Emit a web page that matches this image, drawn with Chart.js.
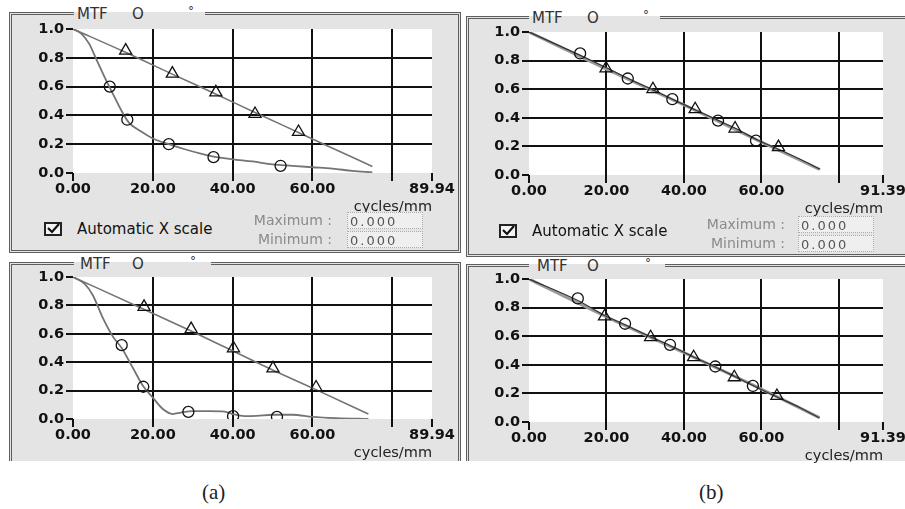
<!DOCTYPE html>
<html>
<head>
<meta charset="utf-8">
<script src="https://cdn.jsdelivr.net/npm/chart.js@4.4.1/dist/chart.umd.min.js"></script>
<style>
  body { margin: 0; width: 905px; height: 509px; background: #fff; position: relative; overflow: hidden; font-family: "DejaVu Sans", sans-serif; }
  .frame { position: absolute; background: #e4e4e4; border: 3px double #5e5e5e; box-sizing: border-box; }
  .ttl { position: absolute; background: linear-gradient(#fff 0, #fff 6px, #e4e4e4 6px); height: 16px; color: #333; font-size: 15px; line-height: 16px; }
  .ttl span { position: absolute; top: 0; }
  canvas { position: absolute; }
  .lbl { position: absolute; white-space: nowrap; }
  .auto { font-size: 15px; color: #111; }
  .mm { font-size: 14px; color: #8a8a8a; text-align: right; width: 100px; }
  .fld { position: absolute; width: 76px; height: 17px; border: 1px dotted #aaa; background: #efefef; font-size: 13px; letter-spacing: 2px; color: #555; line-height: 17px; padding-left: 2px; box-sizing: border-box; }
  .cap { position: absolute; font-family: "Liberation Serif", serif; font-size: 21px; color: #222; }
</style>
</head>
<body>
<div class="frame" style="left:9px;top:12px;width:452px;height:241px"></div>
<div class="frame" style="left:466px;top:16px;width:450px;height:241px"></div>
<div class="frame" style="left:9px;top:262px;width:452px;height:210px;border-bottom:none"></div>
<div class="frame" style="left:466px;top:264px;width:450px;height:208px;border-bottom:none"></div>
<div style="position:absolute;left:0;top:461px;width:905px;height:48px;background:#fff"></div>

<div class="ttl" style="left:74px;top:6px;width:131px"><span style="left:3px">MTF</span><span style="left:58px">O</span><span style="left:114px;font-size:12px;top:-3px">°</span></div>
<div class="ttl" style="left:529px;top:10px;width:131px"><span style="left:3px">MTF</span><span style="left:58px">O</span><span style="left:114px;font-size:12px;top:-3px">°</span></div>
<div class="ttl" style="left:74px;top:256px;width:137px"><span style="left:6px">MTF</span><span style="left:58px">O</span><span style="left:116px;font-size:12px;top:-3px">°</span></div>
<div class="ttl" style="left:529px;top:258px;width:136px"><span style="left:8px">MTF</span><span style="left:58px">O</span><span style="left:116px;font-size:12px;top:-3px">°</span></div>

<canvas id="tl" width="449" height="201" style="left:13px;top:17px"></canvas>
<canvas id="tr" width="444" height="200" style="left:469px;top:20px"></canvas>
<canvas id="bl" width="449" height="199" style="left:13px;top:265px"></canvas>
<canvas id="br" width="444" height="200" style="left:469px;top:267px"></canvas>

<svg style="position:absolute;left:44px;top:222px" width="18" height="14"><rect x="1" y="1" width="16" height="12" fill="#f4f4f4" stroke="#222" stroke-width="2"/><polyline points="4,6 8,10 15,2" fill="none" stroke="#111" stroke-width="2.2"/></svg>
<div class="lbl auto" style="left:77px;top:220px">Automatic X scale</div>
<div class="lbl mm" style="left:232px;top:212px">Maximum :</div>
<div class="lbl mm" style="left:232px;top:231px">Minimum :</div>
<div class="fld" style="left:347px;top:212px">0.000</div>
<div class="fld" style="left:347px;top:231px">0.000</div>

<svg style="position:absolute;left:499px;top:224px" width="18" height="14"><rect x="1" y="1" width="16" height="12" fill="#f4f4f4" stroke="#222" stroke-width="2"/><polyline points="4,6 8,10 15,2" fill="none" stroke="#111" stroke-width="2.2"/></svg>
<div class="lbl auto" style="left:532px;top:222px">Automatic X scale</div>
<div class="lbl mm" style="left:685px;top:216px">Maximum :</div>
<div class="lbl mm" style="left:685px;top:235px">Minimum :</div>
<div class="fld" style="left:798px;top:216px">0.000</div>
<div class="fld" style="left:798px;top:235px">0.000</div>

<div class="cap" style="left:202px;top:480px">(a)</div>
<div class="cap" style="left:699px;top:480px">(b)</div>

<script>
const xTicksA = [0, 20, 40, 60, 80, 89.94];
const xTicksB = [0, 20, 40, 60, 80, 91.39];
const yTicks = [0, 0.2, 0.4, 0.6, 0.8, 1.0];

// (a) top
const tlTriLineX = [0, 13, 25, 36, 46, 57, 66, 75];
const tlTriLineY = [1.0, 0.84, 0.685, 0.545, 0.415, 0.275, 0.16, 0.045];
const tlCirLineX = [0, 2, 4, 6, 8, 10, 12, 14, 17, 20, 24, 28, 32, 36, 40, 45, 50, 55, 60, 65, 70, 75];
const tlCirLineY = [1.0, 0.97, 0.9, 0.78, 0.66, 0.55, 0.44, 0.35, 0.29, 0.24, 0.2, 0.165, 0.135, 0.11, 0.095, 0.08, 0.06, 0.05, 0.04, 0.03, 0.015, 0.005];
const tlTriX = [13.2, 24.9, 35.8, 45.6, 56.5];
const tlTriY = [0.85, 0.69, 0.56, 0.41, 0.285];
const tlCirX = [9.2, 13.6, 24, 35.2, 52];
const tlCirY = [0.6, 0.37, 0.2, 0.11, 0.05];

// (b) top
const trLineX = [0, 13, 20, 26, 32, 37, 43, 49, 53, 59, 64, 70, 75.2];
const trLineY = [1.0, 0.84, 0.75, 0.67, 0.595, 0.53, 0.455, 0.38, 0.33, 0.245, 0.185, 0.11, 0.04];
const trLine2X = [0, 20, 40, 60, 75];
const trLine2Y = [1.0, 0.74, 0.49, 0.23, 0.04];
const trCirX = [13.2, 25.5, 37.0, 48.8, 58.6];
const trCirY = [0.85, 0.675, 0.53, 0.38, 0.24];
const trTriX = [19.9, 32.0, 42.9, 53.2, 64.4];
const trTriY = [0.745, 0.6, 0.46, 0.325, 0.195];

// (a) bottom
const blTriLineX = [0, 18, 30, 40, 50, 61, 74];
const blTriLineY = [1.0, 0.77, 0.615, 0.48, 0.345, 0.205, 0.035];
const blCirLineX = [0, 3, 5, 7.5, 10, 12.2, 15, 17.6, 20, 22.5, 25, 27, 30, 34, 38, 40, 43, 46, 50, 55, 60, 66, 74];
const blCirLineY = [1.0, 0.95, 0.87, 0.71, 0.58, 0.5, 0.36, 0.23, 0.15, 0.07, 0.035, 0.045, 0.055, 0.055, 0.052, 0.035, 0.02, 0.022, 0.03, 0.03, 0.015, 0.006, 0.0];
const blTriX = [17.8, 29.6, 40.2, 50.1, 60.9];
const blTriY = [0.79, 0.633, 0.498, 0.357, 0.222];
const blCirX = [12.2, 17.6, 28.9, 40.1, 51.1];
const blCirY = [0.52, 0.227, 0.05, 0.02, 0.015];

// (b) bottom
const brLineX = [0, 12.6, 19.5, 24.8, 31.4, 36.4, 42.5, 48.1, 53, 57.8, 64, 70, 75];
const brLineY = [1.0, 0.85, 0.745, 0.68, 0.595, 0.535, 0.455, 0.385, 0.32, 0.255, 0.175, 0.1, 0.028];
const brLine2X = [0, 20, 40, 60, 75];
const brLine2Y = [1.0, 0.735, 0.485, 0.23, 0.03];
const brCirX = [12.6, 24.8, 36.4, 48.1, 57.8];
const brCirY = [0.864, 0.687, 0.54, 0.388, 0.252];
const brTriX = [19.5, 31.4, 42.5, 53.0, 64.0];
const brTriY = [0.738, 0.593, 0.453, 0.313, 0.182];

const pts = (xs, ys) => xs.map((x, i) => ({ x: x, y: ys[i] }));

const whiteArea = {
  id: "whiteArea",
  beforeDraw(chart) {
    const a = chart.chartArea;
    chart.ctx.save();
    chart.ctx.fillStyle = "#fff";
    chart.ctx.fillRect(a.left, a.top, a.right - a.left, a.bottom - a.top);
    chart.ctx.restore();
  }
};

function panel(id, xTicks, lines, marks) {
  const xMax = xTicks[xTicks.length - 1];
  const datasets = [];
  marks.forEach(m => datasets.push({
    data: pts(m.x, m.y), showLine: false, pointStyle: m.style, pointRadius: m.r,
    borderColor: "#111", borderWidth: 1.3, backgroundColor: "rgba(0,0,0,0)", order: 0
  }));
  lines.forEach(l => datasets.push({
    data: pts(l.x, l.y), showLine: true, pointRadius: 0, borderColor: l.color,
    borderWidth: l.width, cubicInterpolationMode: "monotone", order: l.order || 1
  }));
  new Chart(document.getElementById(id), {
    type: "scatter",
    data: { datasets: datasets },
    plugins: [whiteArea],
    options: {
      responsive: false,
      animation: false,
      layout: { padding: { left: 0, top: 12, right: 30, bottom: 0 } },
      plugins: { legend: { display: false }, tooltip: { enabled: false } },
      scales: {
        x: {
          type: "linear", min: 0, max: xMax,
          afterBuildTicks: ax => { ax.ticks = xTicks.map(v => ({ value: v })); },
          afterFit: ax => { ax.height = 45; },
          border: { display: false },
          grid: {
            color: c => (c.tick && (c.tick.value === 0 || c.tick.value === xMax)) ? "rgba(0,0,0,0)" : "#111",
            tickColor: "#111", lineWidth: 2, tickLength: 8
          },
          ticks: {
            autoSkip: false, maxRotation: 0, padding: 0, color: "#111",
            font: { family: "DejaVu Sans", size: 14.5, weight: "bold" },
            callback: v => v === 80 ? "" : v.toFixed(2)
          },
          title: {
            display: true, text: "cycles/mm", align: "end", color: "#222",
            font: { family: "DejaVu Sans", size: 14.5 }, padding: { top: 0, bottom: 2 }
          }
        },
        y: {
          min: 0, max: 1,
          afterBuildTicks: ax => { ax.ticks = yTicks.map(v => ({ value: v })); },
          afterFit: ax => { ax.width = 60; },
          border: { display: false },
          grid: {
            color: c => (c.tick && (c.tick.value < 0.01 || c.tick.value > 0.99)) ? "rgba(0,0,0,0)" : "#111",
            tickColor: "#111", lineWidth: 2, tickLength: 7
          },
          ticks: {
            padding: 2, color: "#111",
            font: { family: "DejaVu Sans", size: 14.5, weight: "bold" },
            callback: v => v.toFixed(1)
          }
        }
      }
    }
  });
}

panel("tl", xTicksA,
  [{ x: tlTriLineX, y: tlTriLineY, color: "#747474", width: 1.6 },
   { x: tlCirLineX, y: tlCirLineY, color: "#747474", width: 1.8 }],
  [{ x: tlTriX, y: tlTriY, style: "triangle", r: 7 },
   { x: tlCirX, y: tlCirY, style: "circle", r: 5.5 }]);

panel("tr", xTicksB,
  [{ x: trLine2X, y: trLine2Y, color: "#9a9a9a", width: 3, order: 2 },
   { x: trLineX, y: trLineY, color: "#333", width: 1.2 }],
  [{ x: trTriX, y: trTriY, style: "triangle", r: 7 },
   { x: trCirX, y: trCirY, style: "circle", r: 5.5 }]);

panel("bl", xTicksA,
  [{ x: blTriLineX, y: blTriLineY, color: "#747474", width: 1.6 },
   { x: blCirLineX, y: blCirLineY, color: "#747474", width: 1.8 }],
  [{ x: blTriX, y: blTriY, style: "triangle", r: 7 },
   { x: blCirX, y: blCirY, style: "circle", r: 5.5 }]);

panel("br", xTicksB,
  [{ x: brLine2X, y: brLine2Y, color: "#9a9a9a", width: 3, order: 2 },
   { x: brLineX, y: brLineY, color: "#333", width: 1.2 }],
  [{ x: brTriX, y: brTriY, style: "triangle", r: 7 },
   { x: brCirX, y: brCirY, style: "circle", r: 5.5 }]);
</script>
</body>
</html>
